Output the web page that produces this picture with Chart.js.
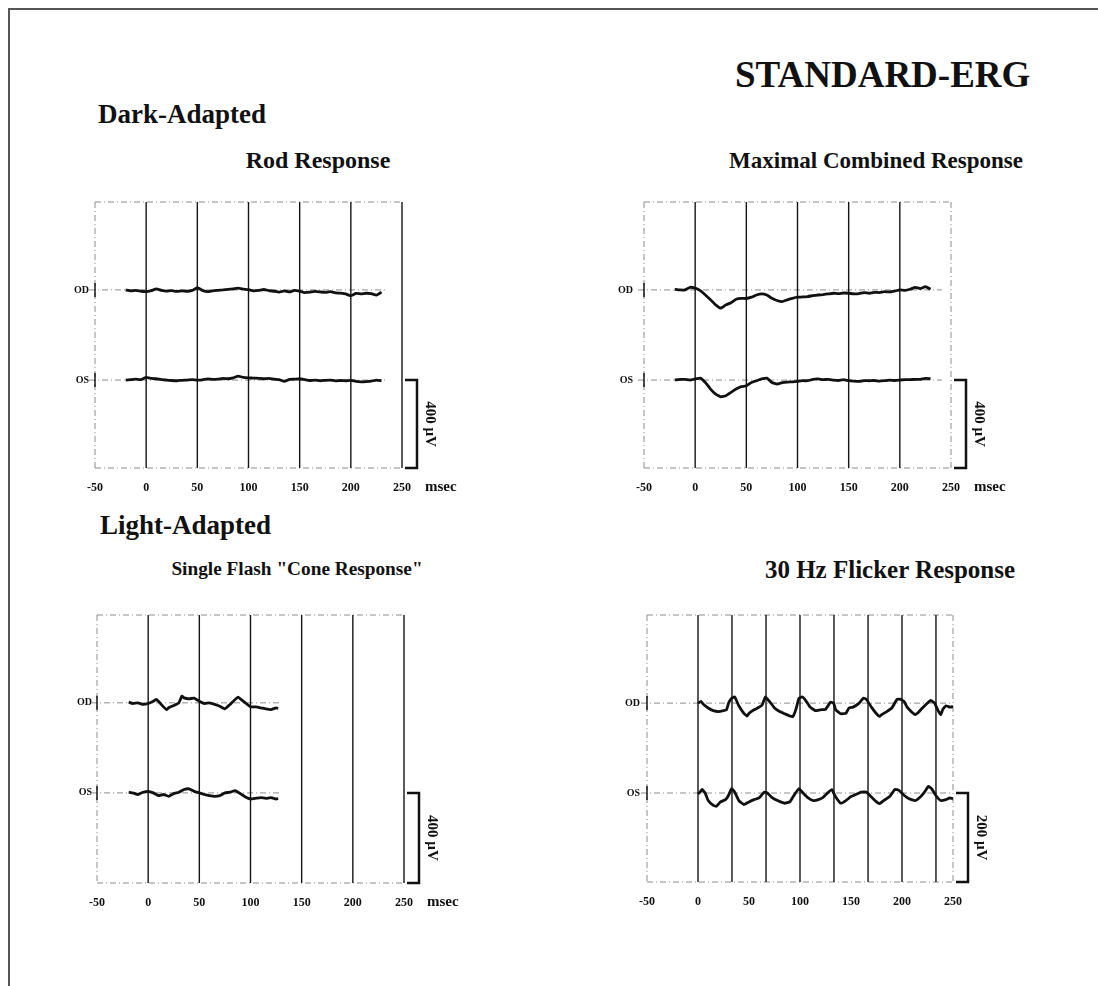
<!DOCTYPE html>
<html>
<head>
<meta charset="utf-8">
<title>STANDARD-ERG</title>
<script src="https://cdn.jsdelivr.net/npm/chart.js@4.4.1/dist/chart.umd.min.js"></script>
<style>
  body { margin: 0; background: #fff; width: 1098px; height: 986px; position: relative; overflow: hidden; font-family: 'Liberation Serif', 'Times New Roman', serif; }
  .frame { position: absolute; left: 8px; top: 8px; width: 1200px; height: 1200px; border-left: 2px solid #555; border-top: 2px solid #555; }
  .t { position: absolute; font-weight: bold; line-height: 1; white-space: nowrap; color: #111; }
  .c { width: 400px; text-align: center; }
  canvas { position: absolute; }
</style>
</head>
<body>
<div class="frame"></div>
<div class="t" style="left:735px;top:56px;font-size:37px">STANDARD-ERG</div>
<div class="t" style="left:98px;top:101px;font-size:27px">Dark-Adapted</div>
<div class="t c" style="left:118px;top:148px;font-size:24px">Rod Response</div>
<div class="t c" style="left:676px;top:149px;font-size:23px">Maximal Combined Response</div>
<div class="t" style="left:100px;top:512px;font-size:27px">Light-Adapted</div>
<div class="t c" style="left:97px;top:559px;font-size:19.3px">Single Flash "Cone Response"</div>
<div class="t c" style="left:690px;top:557px;font-size:25px">30 Hz Flicker Response</div>

<canvas id="rod"></canvas>
<canvas id="max"></canvas>
<canvas id="cone"></canvas>
<canvas id="flick"></canvas>

<script>
// time axis labels (msec) and trace labels
const X_TICKS = [-50, 0, 50, 100, 150, 200, 250];
const LEADS = ['OD', 'OS'];

// dark-adapted sweeps, 5 ms sampling
const DARK_T = [-20, -15, -10, -5, 0, 5, 10, 15, 20, 25, 30, 35, 40, 45, 50, 55, 60, 65, 70, 75,
  80, 85, 90, 95, 100, 105, 110, 115, 120, 125, 130, 135, 140, 145, 150, 155, 160, 165, 170, 175,
  180, 185, 190, 195, 200, 205, 210, 215, 220, 225, 230];

// Rod response (uV)
const ROD_OD = [0, -4, -2, -6, -8, -3, 5, -2, -5, -3, -7, -4, -6, -2, 10, -2, -8, -4, -2, 0,
  3, 5, 8, 4, 1, -4, -2, 2, -3, -6, -10, -4, -9, -2, -6, -12, -10, -7, -9, -11,
  -8, -13, -15, -18, -27, -16, -18, -15, -17, -24, -10];
const ROD_OS = [0, 2, 4, 2, 12, 8, 6, 2, 0, -2, -3, -1, 0, 2, 0, 1, 5, 3, 4, 8,
  6, 10, 18, 12, 10, 9, 8, 6, 8, 4, 2, -6, 3, 4, 6, 2, -2, 0, -3, -1,
  0, -4, -2, -3, -1, -6, -8, -7, -5, 0, -3];

// Maximal combined response (uV)
const MAX_OD = [3, 0, 0, 12, 8, -3, -23, -45, -68, -83, -68, -58, -42, -38, -39, -33, -23, -18, -23, -38,
  -48, -53, -45, -38, -33, -32, -30, -26, -23, -21, -18, -15, -17, -14, -15, -18, -17, -12, -15, -11,
  -12, -8, -9, -5, 0, -2, 3, 12, 6, 15, 3];
const MAX_OS = [0, 3, 3, 0, 5, 9, -11, -41, -64, -76, -71, -56, -41, -30, -26, -11, -3, 5, 9, -11,
  -18, -12, -9, -8, -6, -3, -3, 3, 5, 2, 3, 0, -2, 2, -3, -5, -6, -3, -3, -2,
  -5, -3, 0, -2, 0, 2, 2, 3, 3, 8, 6];

// Single flash cone response
const CONE_T_OD = [-19, -15, -10, -5, 0, 5, 8, 10, 15, 18, 20, 25, 30, 33, 35, 40, 45, 50, 55, 60,
  65, 70, 75, 80, 85, 88, 90, 95, 100, 105, 110, 115, 120, 125, 127];
const CONE_OD = [3, -3, 0, -7, -3, 7, 15, 7, -18, -30, -22, -12, 0, 30, 22, 18, 21, 7, -3, 0,
  -7, -15, -27, -7, 15, 25, 18, 0, -18, -18, -22, -27, -30, -22, -25];
const CONE_T_OS = [-19, -15, -10, -5, 0, 5, 10, 15, 20, 25, 30, 35, 40, 45, 50, 55, 60, 65, 70, 75,
  80, 85, 90, 95, 100, 105, 110, 115, 120, 125, 127];
const CONE_OS = [3, 0, -7, 3, 7, 0, -12, -7, -15, -3, 3, 15, 18, 7, 0, -7, -12, -15, -12, 0,
  3, 10, -3, -18, -27, -24, -21, -24, -21, -27, -25];

// 30 Hz flicker response
const FLICK_T_OD = [0, 3, 5, 10, 15, 20, 25, 28, 30, 33, 36, 40, 45, 48, 50, 55, 60, 63, 66, 70,
  75, 80, 85, 90, 93, 96, 99, 102, 105, 110, 115, 120, 125, 130, 133, 135, 140, 145, 148, 152,
  158, 162, 165, 170, 175, 178, 180, 185, 190, 195, 198, 202, 205, 210, 213, 215, 220, 225, 228, 232,
  235, 238, 240, 243, 247, 250];
const FLICK_OD = [0, 4, -2, -11, -17, -19, -17, -15, 0, 11, 14, -6, -23, -29, -23, -15, -9, -4, 14, 4,
  -11, -19, -24, -29, -30, -14, 11, 14, 8, -9, -17, -15, -14, 2, 0, -15, -24, -23, -11, -9,
  0, 11, 9, -9, -24, -30, -26, -19, -11, 8, 9, 4, -9, -21, -26, -23, -11, 0, 6, 0,
  -15, -26, -14, -6, -9, -8];
const FLICK_T_OS = [0, 2, 4, 7, 10, 15, 18, 22, 27, 30, 33, 36, 40, 45, 50, 55, 60, 65, 68, 72,
  78, 85, 90, 95, 99, 103, 108, 113, 118, 123, 128, 131, 135, 140, 145, 150, 155, 160, 165, 170,
  175, 178, 182, 188, 193, 197, 202, 207, 213, 218, 222, 226, 229, 233, 238, 243, 247, 250];
const FLICK_OS = [-2, 2, 8, 0, -17, -28, -30, -20, -15, -5, 10, 2, -17, -26, -20, -15, -11, 2, 0, -9,
  -17, -23, -20, -2, 10, 0, -11, -17, -15, -9, 2, 8, -9, -23, -17, -8, -3, 2, 2, -9,
  -20, -24, -17, -8, 8, 6, -5, -13, -17, -9, 2, 15, 10, -5, -17, -15, -11, -13];

// vertical reference lines (msec)
const SINGLE_SOLID = [0, 50, 100, 150, 200, 250];
const MAX_SOLID = [0, 50, 100, 150, 200];
const FLICK_SOLID = [0, 33.3, 66.7, 100, 133.3, 166.7, 200, 233.3];

// calibration bars (uV)
const BAR_UV = [400, 400, 400, 200];

const PANELS = [
  { id: 'rod', left: 95, top: 202, w: 307, h: 266, yMin: -400, yMax: 810, odShift: 410, bar: BAR_UV[0],
    msec: true, labPad: 6, baseEnd: 235, tOD: DARK_T, od: ROD_OD, tOS: DARK_T, os: ROD_OS,
    solid: SINGLE_SOLID, dashed: [-50] },
  { id: 'max', left: 644, top: 202, w: 307, h: 266, yMin: -400, yMax: 810, odShift: 410, bar: BAR_UV[1],
    msec: true, labPad: 11, baseEnd: 241, tOD: DARK_T, od: MAX_OD, tOS: DARK_T, os: MAX_OS,
    solid: MAX_SOLID, dashed: [-50, 250] },
  { id: 'cone', left: 97, top: 615, w: 307, h: 268, yMin: -400, yMax: 790, odShift: 400, bar: BAR_UV[2],
    msec: true, labPad: 5, baseEnd: 130, tOD: CONE_T_OD, od: CONE_OD, tOS: CONE_T_OS, os: CONE_OS,
    solid: SINGLE_SOLID, dashed: [-50] },
  { id: 'flick', left: 647, top: 615, w: 306, h: 267, yMin: -200, yMax: 400, odShift: 202, bar: BAR_UV[3],
    msec: false, labPad: 7, baseEnd: 250, tOD: FLICK_T_OD, od: FLICK_OD, tOS: FLICK_T_OS, os: FLICK_OS,
    solid: FLICK_SOLID, dashed: [-50, 250] }
];

// top padding kept larger than the y-axis label overhang so the plot area stays put
const Y_AXIS_W = 40, PAD_TOP = 24, X_AXIS_H = 30, PAD_RIGHT = 75;

function seg(ctx, x1, y1, x2, y2) {
    ctx.beginPath();
    ctx.moveTo(x1, y1);
    ctx.lineTo(x2, y2);
    ctx.stroke();
}

// grid, baselines, calibration bar and unit label
const ergPlugin = {
    id: 'ergDecor',
    beforeDatasetsDraw(chart, args, o) {
        const {ctx, chartArea: {top, bottom}, scales: {x, y}} = chart;
        const xl = x.getPixelForValue(-50), xr = x.getPixelForValue(250);
        ctx.save();
        ctx.strokeStyle = '#8c8c8c';
        ctx.lineWidth = 1;
        ctx.setLineDash([6, 3, 1, 3]);
        seg(ctx, xl, top, xr, top);
        seg(ctx, xl, bottom, xr, bottom);
        [o.odShift, 0].forEach(v => {
            const py = y.getPixelForValue(v);
            seg(ctx, xl - 6, py, x.getPixelForValue(o.baseEnd), py);
        });
        o.dashed.forEach(v => {
            const px = x.getPixelForValue(v);
            seg(ctx, px, top, px, bottom);
        });
        ctx.setLineDash([]);
        ctx.strokeStyle = '#151515';
        ctx.lineWidth = 1.4;
        o.solid.forEach(v => {
            const px = x.getPixelForValue(v);
            seg(ctx, px, top, px, bottom);
        });
        ctx.lineWidth = 1.5;
        [o.odShift, 0].forEach(v => {
            const py = y.getPixelForValue(v);
            seg(ctx, xl, py - 7, xl, py + 7);
        });
        ctx.restore();
    },
    afterDraw(chart, args, o) {
        const {ctx, chartArea: {bottom}, scales: {x, y}} = chart;
        const x250 = x.getPixelForValue(250);
        const bx = x250 + 15;
        const y1 = y.getPixelForValue(0), y2 = y.getPixelForValue(-o.bar);
        ctx.save();
        ctx.strokeStyle = '#111';
        ctx.lineWidth = 2.5;
        ctx.beginPath();
        ctx.moveTo(x250 + 3, y1);
        ctx.lineTo(bx, y1);
        ctx.lineTo(bx, y2);
        ctx.lineTo(x250 + 3, y2);
        ctx.stroke();
        ctx.fillStyle = '#111';
        ctx.translate(bx + 13, (y1 + y2) / 2);
        ctx.rotate(Math.PI / 2);
        ctx.font = "bold 15px 'Liberation Serif'";
        ctx.textAlign = 'center';
        ctx.textBaseline = 'middle';
        ctx.fillText(o.bar + ' \u00b5V', 0, 0);
        ctx.restore();
        if (o.msec) {
            ctx.save();
            ctx.fillStyle = '#111';
            ctx.font = "bold 15px 'Liberation Serif'";
            ctx.textAlign = 'left';
            ctx.textBaseline = 'middle';
            ctx.fillText('msec', x250 + 23, bottom + 19);
            ctx.restore();
        }
    }
};

PANELS.forEach(p => {
    const cv = document.getElementById(p.id);
    const cw = Y_AXIS_W + p.w + PAD_RIGHT, ch = PAD_TOP + p.h + X_AXIS_H;
    cv.width = cw;
    cv.height = ch;
    cv.style.left = (p.left - Y_AXIS_W) + 'px';
    cv.style.top = (p.top - PAD_TOP) + 'px';
    cv.style.width = cw + 'px';
    cv.style.height = ch + 'px';

    const trace = (ts, vs, shift) => ({
        data: ts.map((t, i) => ({x: t, y: vs[i] + shift})),
        borderColor: '#111',
        borderWidth: 2.8,
        pointRadius: 0,
        tension: 0.1,
        fill: false
    });

    new Chart(cv, {
        type: 'line',
        data: {
            datasets: [trace(p.tOD, p.od, p.odShift), trace(p.tOS, p.os, 0)]
        },
        options: {
            responsive: false,
            animation: false,
            events: [],
            layout: { padding: { top: PAD_TOP, right: PAD_RIGHT, left: 0, bottom: 0 } },
            plugins: {
                legend: { display: false },
                tooltip: { enabled: false },
                ergDecor: p
            },
            scales: {
                x: {
                    type: 'linear',
                    min: -50,
                    max: 250,
                    afterBuildTicks: axis => { axis.ticks = X_TICKS.map(v => ({value: v})); },
                    afterFit: axis => { axis.height = X_AXIS_H; },
                    grid: { display: false, drawTicks: false },
                    border: { display: false },
                    ticks: {
                        autoSkip: false, maxRotation: 0, padding: 13, color: '#111',
                        font: { family: 'Liberation Serif', size: 12, weight: 'bold' },
                        callback: v => String(v)
                    }
                },
                y: {
                    type: 'linear',
                    min: p.yMin,
                    max: p.yMax,
                    afterBuildTicks: axis => { axis.ticks = [{value: 0}, {value: p.odShift}]; },
                    afterFit: axis => { axis.width = Y_AXIS_W; },
                    grid: { display: false, drawTicks: false },
                    border: { display: false },
                    ticks: {
                        padding: p.labPad, color: '#111',
                        font: { family: 'Liberation Serif', size: 10, weight: 'bold' },
                        callback: v => v === 0 ? LEADS[1] : LEADS[0]
                    }
                }
            }
        },
        plugins: [ergPlugin]
    });
});
</script>
</body>
</html>
